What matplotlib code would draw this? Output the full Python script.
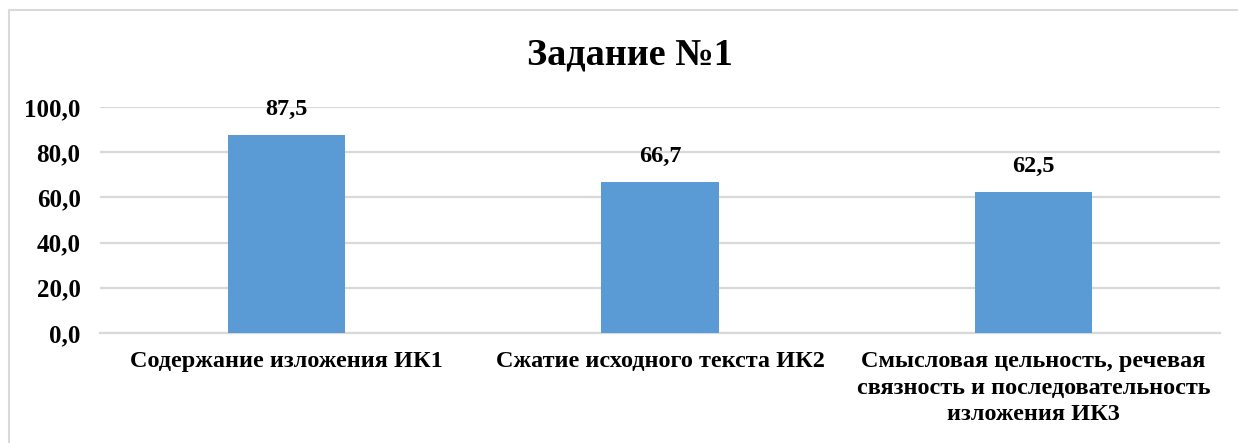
import matplotlib
matplotlib.use('Agg')
import matplotlib.pyplot as plt
from matplotlib.patches import Rectangle
from matplotlib.ticker import FuncFormatter

# Data
categories = ['Содержание изложения ИК1',
              'Сжатие исходного текста ИК2',
              'Смысловая цельность, речевая\nсвязность и последовательность\nизложения ИК3']
values = [87.5, 66.7, 62.5]
yticks = [0, 20, 40, 60, 80, 100]

plt.rcParams['font.family'] = ['Liberation Serif', 'DejaVu Serif']
plt.rcParams['font.weight'] = 'bold'

fig = plt.figure(figsize=(12.38, 4.43), dpi=100)
ax = fig.add_axes([100/1238, 1 - 333/443, 1120/1238, 226/443])

x = list(range(len(categories)))
bars = ax.bar(x, values, width=0.315, color='#5b9bd5', zorder=3)

for xi, v in zip(x, values):
    ax.annotate(f'{v:.1f}'.replace('.', ','), (xi, v), xytext=(0, 11),
                textcoords='offset points', ha='center', va='bottom',
                fontsize=17.5, fontweight='bold')

ax.set_xlim(-0.5, len(categories) - 0.5)
ax.set_ylim(0, 100)
ax.set_yticks(yticks)
ax.yaxis.set_major_formatter(FuncFormatter(lambda v, p: f'{v:.1f}'.replace('.', ',')))
ax.set_xticks(x)
ax.set_xticklabels(categories, fontsize=17.5, fontweight='bold', linespacing=1.35)
ax.tick_params(axis='y', labelsize=18, length=0, pad=14)
ax.tick_params(axis='x', length=0, pad=13)

ax.grid(axis='y', color='#d9d9d9', linewidth=1.6, zorder=0)
for s in ['top', 'right', 'left']:
    ax.spines[s].set_visible(False)
ax.spines['bottom'].set_color('#d9d9d9')
ax.spines['bottom'].set_linewidth(1.6)

fig.text(630/1238, 1 - 55/443, 'Задание №1', ha='center', va='center',
         fontsize=27.5, fontweight='bold')

# chart border
fig.add_artist(Rectangle((9/1238, -0.1), 1.2, 1 - 10/443 + 0.1,
                         transform=fig.transFigure, fill=False,
                         edgecolor='#d9d9d9', linewidth=1.5))

fig.savefig('out.png', dpi=100)
